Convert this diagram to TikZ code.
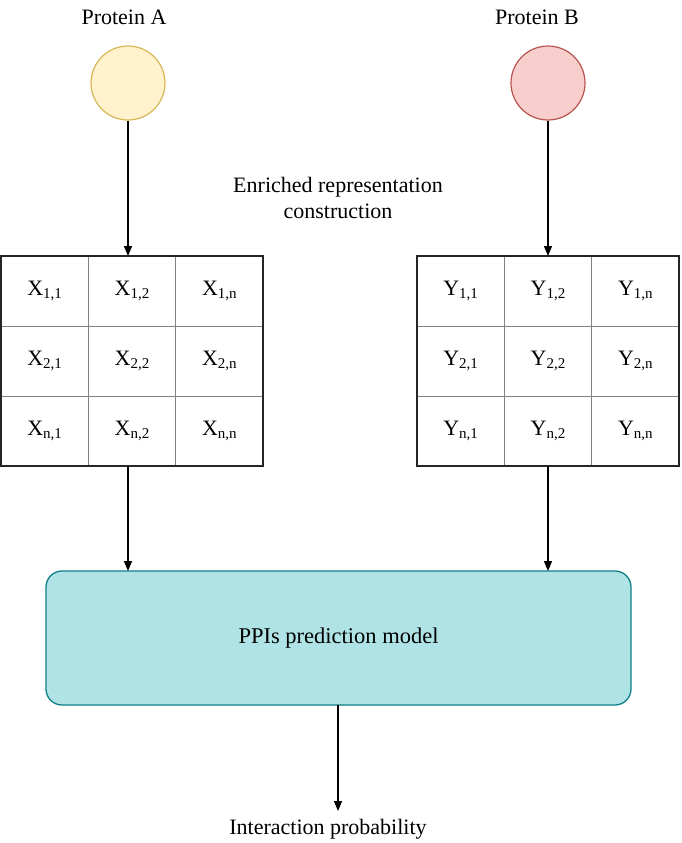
\documentclass[tikz,border=0pt]{standalone}
\usepackage{fontspec}
\setmainfont{Liberation Serif}
\usetikzlibrary{arrows.meta}
\begin{document}
\begin{tikzpicture}[x=1pt,y=-1pt,
  lbl/.style={font=\fontsize{22}{26}\selectfont, align=center, inner sep=0pt},
  cell/.style={draw=black!50, line width=1pt, minimum width=87.33pt, minimum height=70pt, inner sep=0pt, font=\fontsize{22}{26}\selectfont},
  gridbox/.style={draw=black!85, line width=1.4pt, minimum width=262pt, minimum height=210pt, inner sep=0pt},
  arr/.style={-{Triangle[length=10pt,width=8pt]}, line width=1.3pt, black},
  prot/.style={circle, minimum size=74pt, inner sep=0pt, line width=1.2pt}]
\useasboundingbox (0,0) rectangle (681,843);
\newcommand{\sbs}[1]{\raisebox{-0.35ex}{\fontsize{15}{15}\selectfont #1}}
% labels
\node[lbl] (labA) at (124,17) {Protein A};
\node[lbl] (labB) at (537,17) {Protein B};
\node[prot, draw={rgb,255:red,214;green,182;blue,86}, fill={rgb,255:red,255;green,242;blue,204}] (pA) at (128,83) {};
\node[prot, draw={rgb,255:red,184;green,84;blue,80}, fill={rgb,255:red,248;green,206;blue,204}] (pB) at (548,83) {};
\node[lbl] (enr) at (338,198) {Enriched representation\\construction};
% grids
\foreach \G/\L/\x in {gx/X/132, gy/Y/548}{
  \foreach \r/\rl/\yy in {1/1/291, 2/2/361, 3/n/431}{
    \foreach \c/\cl/\dx in {1/1/-87.33, 2/2/0, 3/n/87.33}{
      \node[cell] (\G\r\c) at (\x+\dx,\yy) {\L\sbs{\rl,\cl}};
    }
  }
  \node[gridbox] (\G) at (\x,361) {};
}
% model
\node[draw={rgb,255:red,14;green,128;blue,136}, fill={rgb,255:red,176;green,227;blue,230}, line width=1.3pt, rounded corners=16pt, minimum width=585pt, minimum height=134pt, font=\fontsize{22.5}{26}\selectfont] (model) at (338.5,638) {PPIs prediction model};
\node[lbl] (out) at (328,829) {Interaction probability};
\coordinate (gxin) at (128,256);
\coordinate (gyin) at (548,256);
\coordinate (gxout) at (128,466);
\coordinate (gyout) at (548,466);
\coordinate (min1) at (128,571);
\coordinate (min2) at (548,571);
\coordinate (mout) at (338,705);
\coordinate (oin) at (338,811);
\draw[arr] (pA.south) -- (gxin);
\draw[arr] (pB.south) -- (gyin);
\draw[arr] (gxout) -- (min1);
\draw[arr] (gyout) -- (min2);
\draw[arr] (mout) -- (oin);
\end{tikzpicture}
\end{document}
